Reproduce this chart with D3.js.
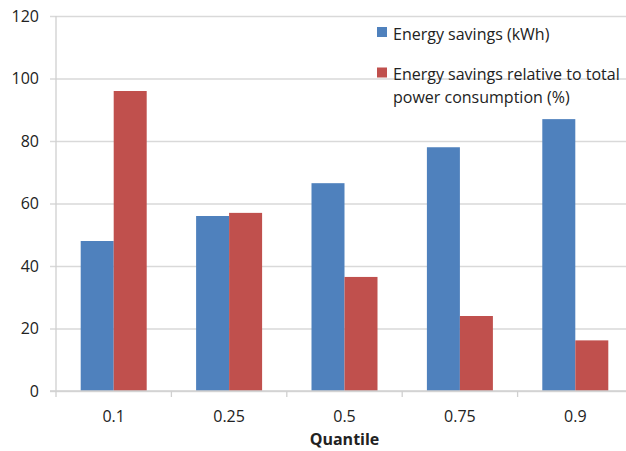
<!DOCTYPE html>
<html>
<head>
<meta charset="utf-8">
<script src="https://cdn.jsdelivr.net/npm/d3@7/dist/d3.min.js"></script>
<style>
  html, body { margin: 0; padding: 0; background: #fff; }
  svg { display: block; font-family: "Open Sans", "Liberation Sans", sans-serif; }
</style>
</head>
<body>
<svg id="chart" width="626" height="451"></svg>
<script>
// Quantiles on the x axis
const categories = ["0.1", "0.25", "0.5", "0.75", "0.9"];
// Absolute savings per quantile (kWh)
const savingsKwh = [48, 56, 66.5, 78, 87];
// Savings relative to total power consumption (%)
const savingsPct = [96, 57, 36.5, 24, 16.2];
// Y axis ticks
const yTicks = [0, 20, 40, 60, 80, 100, 120];

const seriesColors = ["#4F81BD", "#C0504D"];
const seriesValues = [savingsKwh, savingsPct];

const svg = d3.select("#chart");
const W = 626, H = 451;
const plot = { left: 56, right: 633, top: 16, bottom: 391 };
const textColor = "#222";

// One slot per quantile; the pair of bars sits centred in each slot
const slot = d3.scaleBand().domain(categories).range([plot.left, plot.right]);
const y = d3.scaleLinear().domain([0, 120]).range([plot.bottom, plot.top]);

svg.append("defs").append("clipPath").attr("id", "c")
  .append("rect").attr("x", 0).attr("y", 0).attr("width", W).attr("height", H);

const g = svg.append("g").attr("clip-path", "url(#c)");

// Horizontal gridlines with short tick marks to the left of the axis
const yAxis = d3.axisLeft(y).tickValues(yTicks).tickSize(-(plot.right - plot.left)).tickPadding(0).tickFormat("");
const gy = g.append("g").attr("transform", `translate(${plot.left},0)`).call(yAxis);
gy.select(".domain").remove();
gy.selectAll(".tick line").attr("stroke", "#d9d9d9").attr("stroke-width", 1.3).attr("x1", -6);

// Y tick labels
g.append("g").selectAll("text").data(yTicks).join("text")
  .attr("x", 39).attr("y", d => y(d)).attr("dy", "0.36em")
  .attr("text-anchor", "end").attr("font-size", 16).attr("fill", textColor)
  .text(d => d);

// Bars
const bw = 33;
seriesValues.forEach((vals, si) => {
  g.append("g").selectAll("rect").data(categories).join("rect")
    .attr("x", c => slot(c) + slot.bandwidth() / 2 - bw + si * bw)
    .attr("y", (c, i) => y(vals[i]))
    .attr("width", bw)
    .attr("height", (c, i) => y(0) - y(vals[i]))
    .attr("fill", seriesColors[si]);
});

// Vertical axis line
g.append("line").attr("x1", plot.left).attr("x2", plot.left)
  .attr("y1", plot.top).attr("y2", plot.bottom + 6)
  .attr("stroke", "#d0d0d0").attr("stroke-width", 1.3);

// X axis with category boundary ticks
const xa = g.append("g").attr("transform", `translate(0,${plot.bottom})`);
xa.append("line").attr("x1", plot.left - 6).attr("x2", plot.right).attr("stroke", "#d0d0d0").attr("stroke-width", 1.3);
xa.selectAll("line.tk").data(categories).join("line").attr("class", "tk")
  .attr("x1", c => slot(c) + slot.bandwidth()).attr("x2", c => slot(c) + slot.bandwidth())
  .attr("y1", 0).attr("y2", 6).attr("stroke", "#d0d0d0").attr("stroke-width", 1.3);
xa.selectAll("text").data(categories).join("text")
  .attr("x", c => slot(c) + slot.bandwidth() / 2).attr("y", 30.5)
  .attr("text-anchor", "middle").attr("font-size", 16).attr("fill", textColor)
  .text(c => c);

// X axis title, centred under the plot area
svg.append("text").attr("x", (plot.left + plot.right) / 2).attr("y", 444.5).attr("text-anchor", "middle")
  .attr("font-size", 16).attr("font-weight", "bold").attr("fill", textColor).text("Quantile");

// Legend
const legend = svg.append("g");
const legendRows = [
  { lines: ["Energy savings (kWh)"], y: 39.5 },
  { lines: ["Energy savings relative to total", "power consumption (%)"], y: 80 }
];
legendRows.forEach((row, i) => {
  legend.append("rect").attr("x", 377).attr("y", row.y - 12.5).attr("width", 10).attr("height", 10).attr("fill", seriesColors[i]);
  row.lines.forEach((ln, j) => {
    legend.append("text").attr("x", 393).attr("y", row.y + j * 22.5)
      .attr("font-size", 16).attr("fill", textColor).text(ln);
  });
});
</script>
</body>
</html>
